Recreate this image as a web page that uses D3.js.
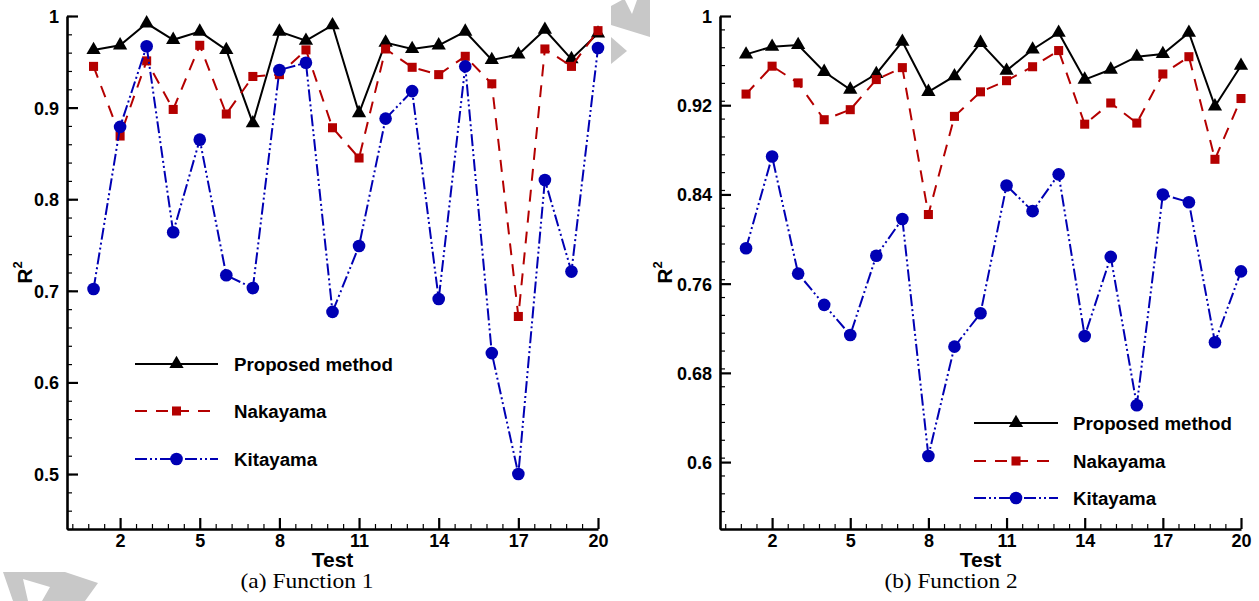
<!DOCTYPE html>
<html><head><meta charset="utf-8">
<script src="https://cdn.jsdelivr.net/npm/d3@7"></script>
<style>body{margin:0;background:#fff}svg{display:block}</style>
</head><body>
<svg id="chart" width="1259" height="601"></svg>
<script>
// ---------- data ----------
const tests = [1,2,3,4,5,6,7,8,9,10,11,12,13,14,15,16,17,18,19,20];
const seriesNames = ["Proposed method","Nakayama","Kitayama"];

const f1Proposed = [0.963,0.968,0.992,0.974,0.983,0.963,0.883,0.983,0.973,0.990,0.894,0.971,0.964,0.968,0.983,0.952,0.958,0.985,0.953,0.981];
const f1Nakayama = [0.945,0.869,0.951,0.898,0.968,0.893,0.934,0.936,0.963,0.878,0.845,0.964,0.944,0.936,0.956,0.926,0.672,0.964,0.945,0.984];
const f1Kitayama = [0.702,0.879,0.967,0.764,0.865,0.717,0.703,0.941,0.949,0.677,0.749,0.888,0.918,0.691,0.945,0.632,0.500,0.821,0.721,0.965];

const f2Proposed = [0.9656,0.9725,0.974,0.950,0.934,0.948,0.977,0.932,0.946,0.976,0.951,0.970,0.985,0.943,0.952,0.9635,0.966,0.985,0.919,0.9554];
const f2Nakayama = [0.930,0.955,0.940,0.907,0.916,0.943,0.9537,0.822,0.910,0.932,0.942,0.9545,0.969,0.903,0.922,0.904,0.948,0.9635,0.8715,0.926];
const f2Kitayama = [0.7917,0.874,0.769,0.741,0.714,0.785,0.818,0.6055,0.7035,0.7334,0.848,0.825,0.858,0.713,0.784,0.651,0.840,0.833,0.7074,0.771];

const xTickValues = [2,5,8,11,14,17,20];
const f1YTicks = [0.5,0.6,0.7,0.8,0.9,1];
const f2YTicks = [0.6,0.68,0.76,0.84,0.92,1];
const captions = ["(a) Function 1","(b) Function 2"];
const xTitle = "Test";

// ---------- styles ----------
const styles = [
  {color:"#000000", dash:null, symbol:d3.symbolTriangle, size:88},
  {color:"#b40000", dash:"12,9", symbol:d3.symbolSquare, size:82},
  {color:"#0000b4", dash:"12,3,2,3,2,3", symbol:d3.symbolCircle, size:125}
];

const svg = d3.select("#chart");

// watermark fragments
const wm = svg.append("g").attr("fill","#c8c8c8");
wm.append("path").attr("d","M611,6L622,0L625,0L632,14L637,0L650,0L650,37L611,25Z");
wm.append("path").attr("d","M611,37L627,51L611,64Z");
wm.append("path").attr("d","M3,572L65,572L98,583L85,601L42,601L50,587L23,579L28,601L13,601Z");

const panels = [
  {series:[f1Proposed,f1Nakayama,f1Kitayama], xr:[67,598], yd:[0.44,1], yTicks:f1YTicks, yMinorStep:0.02,
   legX:[135,218], legRows:[364,411,459], legTextX:234, rX:32, capX:307, caption:captions[0]},
  {series:[f2Proposed,f2Nakayama,f2Kitayama], xr:[720,1241], yd:[0.54,1], yTicks:f2YTicks, yMinorStep:0.016,
   legX:[974,1058], legRows:[423,461,498], legTextX:1073, rX:672, capX:951, caption:captions[1]}
];

const plotTop = 16, plotBottom = 529;
const fmt = d => String(+d.toFixed(3));

panels.forEach(p => {
  const x = d3.scaleLinear().domain([0,20]).range(p.xr);
  const y = d3.scaleLinear().domain(p.yd).range([plotBottom, plotTop]);
  const g = svg.append("g");

  // minor ticks
  const xMinor = d3.range(0.2, 20, 0.6).filter(v => Math.abs((v-2)/3 - Math.round((v-2)/3)) > 0.01);
  g.append("g").attr("transform",`translate(0,${plotBottom})`)
    .call(d3.axisBottom(x).tickValues(xMinor).tickSize(-5).tickFormat("").tickSizeOuter(0))
    .call(s => s.select(".domain").remove())
    .selectAll("line").attr("stroke","#000").attr("stroke-width",1.2);
  const yMinor = d3.range(p.yd[0], p.yd[1]+1e-9, p.yMinorStep);
  g.append("g").attr("transform",`translate(${p.xr[0]},0)`)
    .call(d3.axisLeft(y).tickValues(yMinor).tickSize(-5).tickFormat("").tickSizeOuter(0))
    .call(s => s.select(".domain").remove())
    .selectAll("line").attr("stroke","#000").attr("stroke-width",1.2);

  // major axes
  const xa = g.append("g").attr("transform",`translate(0,${plotBottom})`)
    .call(d3.axisBottom(x).tickValues(xTickValues).tickSize(-11).tickSizeOuter(0).tickPadding(5).tickFormat(fmt));
  const ya = g.append("g").attr("transform",`translate(${p.xr[0]},0)`)
    .call(d3.axisLeft(y).tickValues(p.yTicks).tickSize(-11).tickSizeOuter(0).tickPadding(8).tickFormat(fmt));
  [xa,ya].forEach(a => {
    a.select(".domain").attr("stroke","#000").attr("stroke-width",2.6);
    a.selectAll(".tick line").attr("stroke","#000").attr("stroke-width",2.2);
    a.selectAll("text").attr("font-family","'Liberation Sans',Arial,sans-serif")
      .attr("font-weight","bold").attr("font-size",18).attr("fill","#000");
  });
  ya.selectAll("text").attr("dy","0.36em");

  // series
  p.series.forEach((vals, i) => {
    const st = styles[i];
    const line = d3.line().x((d,j) => x(tests[j])).y(d => y(d));
    g.append("path").datum(vals).attr("d", line).attr("fill","none")
      .attr("stroke", st.color).attr("stroke-width", 2)
      .attr("stroke-dasharray", st.dash);
    g.selectAll(null).data(vals).enter().append("path")
      .attr("d", d3.symbol().type(st.symbol).size(st.size))
      .attr("transform", (d,j) => `translate(${x(tests[j])},${y(d)})`)
      .attr("fill", st.color);
  });

  // legend
  seriesNames.forEach((name, i) => {
    const st = styles[i];
    const ly = p.legRows[i];
    g.append("line").attr("x1",p.legX[0]).attr("x2",p.legX[1]).attr("y1",ly).attr("y2",ly)
      .attr("stroke",st.color).attr("stroke-width",2).attr("stroke-dasharray",st.dash);
    g.append("path").attr("d", d3.symbol().type(st.symbol).size(st.size))
      .attr("transform",`translate(${(p.legX[0]+p.legX[1])/2},${ly})`).attr("fill",st.color);
    g.append("text").attr("x",p.legTextX).attr("y",ly).attr("dy","0.36em")
      .attr("font-family","'Liberation Sans',Arial,sans-serif").attr("font-weight","bold")
      .attr("font-size",18.7).text(name);
  });

  // axis titles
  g.append("text").attr("x",(p.xr[0]+p.xr[1])/2).attr("y",567).attr("text-anchor","middle")
    .attr("font-family","'Liberation Sans',Arial,sans-serif").attr("font-weight","bold")
    .attr("font-size",21).text(xTitle);
  const rt = g.append("text").attr("transform",`translate(${p.rX},${(plotTop+plotBottom)/2}) rotate(-90)`)
    .attr("text-anchor","middle")
    .attr("font-family","'Liberation Sans',Arial,sans-serif").attr("font-weight","bold")
    .attr("font-size",21);
  rt.append("tspan").text("R");
  rt.append("tspan").attr("font-size",13).attr("dy","-0.75em").text("2");

  // caption
  g.append("text").attr("x",p.capX).attr("y",588).attr("text-anchor","middle")
    .attr("font-family","'Liberation Serif','Times New Roman',serif").attr("font-size",21)
    .attr("textLength",133).attr("lengthAdjust","spacingAndGlyphs")
    .text(p.caption);
});
</script>
</body></html>
